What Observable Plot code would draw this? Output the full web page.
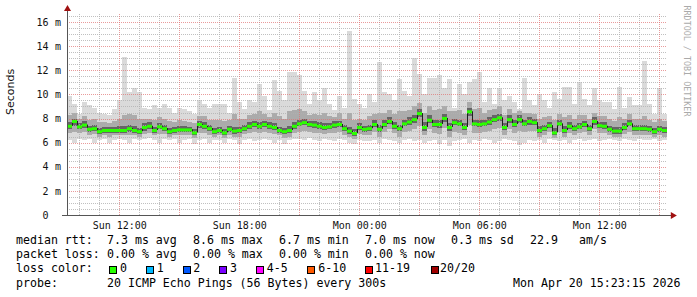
<!DOCTYPE html>
<html>
<head>
<meta charset="utf-8">
<script src="https://cdn.jsdelivr.net/npm/d3@7"></script>
<script src="https://cdn.jsdelivr.net/npm/@observablehq/plot@0.6"></script>
<style>
  html, body { margin: 0; padding: 0; background: #fff; }
  #wrap { position: relative; width: 697px; height: 297px; overflow: hidden; background: #fff; }
  #wrap svg { position: absolute; left: 0; top: 0; }
  .lg { position: absolute; font-family: "DejaVu Sans Mono", monospace; font-size: 11.6px; line-height: 1; color: #000; white-space: pre; }
  .bx { position: absolute; width: 8px; height: 8px; box-sizing: border-box; border: 1px solid #000; }
</style>
</head>
<body>
<div id="wrap"></div>
<script>
// ---- data (15-minute columns, milliseconds) ----
const startTime = Date.UTC(2026, 3, 19, 9, 23, 15);   // Sun Apr 19 09:23:15
const endTime   = Date.UTC(2026, 3, 20, 15, 23, 15);  // Mon Apr 20 15:23:15
const stepMs = 15 * 60 * 1000;

const rttMax = [9.9,9.2,8.4,9.4,9.1,8.9,8.5,8.4,8.3,8.8,9.5,13.1,10.2,10.5,10.2,8.9,8.8,9.1,8.9,9.2,8.9,8.5,8.9,8.8,8.6,8.4,9.5,9.2,8.9,9.2,
  9.2,9.2,8.5,11.4,9.4,8.8,9.5,9.4,10.9,9.9,8.7,11.2,10.3,9.5,11.9,11.9,11.6,10.3,9.2,10.2,9.5,10.5,9.2,8.7,9.9,8.9,15.3,9.6,9.2,8.9,
  10.05,9.4,12.7,10.2,10.05,9.5,11.3,10.3,9.9,13.0,11.7,10.05,11.4,11.4,11.6,10.5,11.3,8.9,10.9,10.05,11.0,11.3,11.9,9.4,10.5,9.2,10.5,9.5,9.9,9.4,
  8.8,11.4,9.5,9.1,10.05,9.5,8.9,10.2,9.6,10.6,10.6,9.2,11.0,9.6,9.1,10.5,9.5,9.4,9.4,8.8,10.6,8.9,9.8,9.1,9.1,12.8,9.2,8.4,10.5,8.4];
const rttHigh = [8.3,8.5,8.0,8.2,7.9,8.0,7.7,7.7,7.6,7.8,8.0,8.3,8.4,8.3,8.0,8.0,8.0,7.9,8.1,8.0,7.8,7.7,7.9,7.8,7.7,7.6,8.2,8.2,7.9,7.9,
  7.9,7.8,7.9,8.4,8.0,8.0,8.3,8.4,8.6,8.4,8.1,8.5,8.2,8.0,8.6,8.7,8.8,8.6,8.3,8.4,8.3,8.5,8.2,8.1,8.5,8.0,8.5,7.9,8.0,7.9,
  8.2,8.4,8.5,8.5,8.7,8.4,8.6,8.6,8.7,9.0,9.3,8.5,9.0,8.7,8.8,9.0,8.6,8.6,8.7,8.4,9.4,8.8,8.9,8.5,8.7,8.8,9.0,8.3,8.8,8.5,
  8.6,8.5,8.5,8.4,8.0,8.1,8.2,7.9,8.4,8.1,8.3,8.0,8.3,8.3,8.0,8.5,8.2,8.2,8.0,7.8,8.1,8.0,8.4,8.0,8.0,8.2,7.9,7.7,8.0,7.8];
const rttQ3 = [7.7,8.0,7.6,7.8,7.4,7.5,7.2,7.3,7.3,7.3,7.4,7.4,7.5,7.4,7.2,7.6,7.7,7.3,7.6,7.5,7.2,7.3,7.4,7.4,7.3,7.1,7.8,7.7,7.5,7.2,
  7.3,7.1,7.4,7.3,7.3,7.5,7.7,7.8,7.7,7.8,7.7,7.6,7.3,7.2,7.4,7.7,7.9,8.0,7.8,7.8,7.7,7.6,7.6,7.8,7.8,7.5,7.3,7.1,7.6,7.4,
  7.5,7.9,7.5,7.9,8.1,7.7,7.5,7.9,8.1,8.3,8.8,7.7,8.3,7.9,7.9,8.4,7.6,8.0,7.9,7.6,8.9,7.9,7.9,7.9,8.1,8.3,8.4,7.6,8.3,7.9,
  8.3,7.9,8.1,8.0,7.4,7.5,7.7,7.2,7.9,7.4,7.7,7.5,7.6,7.8,7.5,8.1,7.7,7.7,7.4,7.3,7.3,7.6,7.9,7.5,7.5,7.5,7.4,7.2,7.4,7.3];
const rttMedian = [7.4,7.8,7.35,7.5,7.15,7.2,6.95,7.05,7.05,7.05,7.05,7.05,7.2,7.05,6.95,7.3,7.4,7.05,7.35,7.2,6.95,7.05,7.1,7.1,7.1,6.85,7.55,7.4,7.2,6.95,
  7.05,6.85,7.15,7.0,7.05,7.2,7.4,7.55,7.4,7.55,7.4,7.3,7.05,6.95,7.05,7.4,7.6,7.7,7.55,7.5,7.4,7.3,7.35,7.5,7.55,7.2,7.0,6.8,7.3,7.15,
  7.2,7.55,7.15,7.55,7.8,7.4,7.2,7.6,7.75,7.95,8.45,7.3,7.9,7.55,7.55,8.05,7.3,7.7,7.6,7.3,8.6,7.6,7.55,7.6,7.75,7.95,8.1,7.3,7.95,7.55,
  7.95,7.6,7.8,7.7,7.05,7.2,7.45,6.85,7.6,7.05,7.4,7.2,7.35,7.55,7.2,7.8,7.45,7.4,7.15,7.0,7.0,7.3,7.6,7.2,7.2,7.2,7.15,6.95,7.15,7.05];
const rttQ1 = [7.1,7.4,7.1,7.2,6.9,6.95,6.7,6.8,6.8,6.8,6.8,6.8,6.9,6.8,6.7,7.0,7.1,6.8,7.1,6.95,6.7,6.8,6.85,6.85,6.85,6.6,7.25,7.1,6.95,6.7,
  6.8,6.6,6.9,6.75,6.8,6.95,7.15,7.3,7.15,7.3,7.15,7.05,6.8,6.7,6.8,7.15,7.35,7.45,7.3,7.25,7.15,7.05,7.1,7.25,7.3,6.95,6.75,6.55,7.05,6.9,
  6.95,7.3,6.9,7.3,7.55,7.15,6.95,7.35,7.5,7.65,8.1,7.0,7.6,7.3,7.25,7.75,7.0,7.45,7.35,7.05,8.25,7.35,7.3,7.35,7.5,7.7,7.8,7.05,7.65,7.3,
  7.6,7.35,7.5,7.45,6.8,6.95,7.2,6.6,7.35,6.8,7.15,6.95,7.1,7.3,6.95,7.5,7.2,7.15,6.9,6.75,6.75,7.05,7.35,6.95,6.95,6.95,6.9,6.7,6.9,6.8];
const rttLow = [6.8,6.9,6.8,6.9,6.6,6.7,6.5,6.6,6.5,6.6,6.6,6.6,6.6,6.6,6.5,6.7,6.8,6.6,6.7,6.7,6.5,6.6,6.6,6.6,6.6,6.4,6.8,6.8,6.6,6.5,
  6.6,6.4,6.6,6.5,6.5,6.7,6.8,6.9,6.8,6.9,6.8,6.7,6.6,6.4,6.5,6.8,6.9,7.0,6.9,6.8,6.8,6.7,6.8,6.8,6.9,6.6,6.5,6.3,6.7,6.6,
  6.6,6.9,6.5,6.9,7.1,6.8,6.5,6.9,7.0,7.1,7.4,6.6,7.1,6.8,6.7,7.2,6.5,6.9,6.8,6.6,7.5,6.8,6.8,6.9,7.0,7.1,7.2,6.6,7.1,6.8,
  7.0,6.9,7.0,7.0,6.5,6.6,6.9,6.4,6.9,6.5,6.8,6.6,6.8,6.9,6.6,7.1,6.8,6.8,6.6,6.5,6.5,6.7,6.9,6.6,6.6,6.6,6.6,6.5,6.6,6.5];
const rttMin = [6.2,6.0,6.3,6.2,6.3,6.0,6.2,6.3,6.0,6.2,6.3,6.2,6.0,6.3,6.2,6.3,6.4,6.2,6.0,6.3,6.2,6.3,6.0,6.2,6.3,5.9,6.2,6.3,6.0,6.2,
  6.2,6.0,6.3,6.2,5.9,6.2,6.3,6.1,6.2,6.3,6.2,6.0,6.2,5.9,6.2,6.3,6.3,6.2,6.4,6.2,6.1,6.3,6.2,6.1,6.3,6.2,6.0,5.9,6.2,6.1,
  6.1,6.2,6.0,6.3,6.2,6.1,6.0,6.2,6.3,6.1,6.2,6.0,6.1,6.2,5.9,6.2,5.7,6.1,6.2,6.3,6.0,6.2,6.1,6.3,6.2,6.0,6.1,6.3,6.2,6.1,
  5.8,6.0,6.2,6.1,6.2,6.0,6.3,6.2,6.1,6.2,6.0,6.2,6.3,6.1,6.2,6.3,6.1,6.2,6.3,6.2,6.1,6.3,6.2,6.1,6.3,6.2,6.2,6.3,6.1,6.2];

const yTicks = [0, 2, 4, 6, 8, 10, 12, 14, 16];
const yUnit = "m";
const xTickTimes = [Date.UTC(2026,3,19,12), Date.UTC(2026,3,19,18), Date.UTC(2026,3,20,0), Date.UTC(2026,3,20,6), Date.UTC(2026,3,20,12)];
const xTickLabels = ["Sun 12:00", "Sun 18:00", "Mon 00:00", "Mon 06:00", "Mon 12:00"];

const statsRtt = ["median rtt:", "7.3 ms avg", "8.6 ms max", "6.7 ms min", "7.0 ms now", "0.3 ms sd", "22.9", "am/s"];
const statsLoss = ["packet loss:", "0.00 % avg", "0.00 % max", "0.00 % min", "0.00 % now"];
const lossLabels = ["0", "1", "2", "3", "4-5", "6-10", "11-19", "20/20"];
const lossColors = ["#26ff00", "#00b8ff", "#0059ff", "#7a00ff", "#ff00ff", "#ff5a00", "#ff0000", "#a00000"];
const probeText = ["probe:", "20 ICMP Echo Pings (56 Bytes) every 300s"];
const stampText = "Mon Apr 20 15:23:15 2026";

// ---- build table ----
const cols = rttMedian.map((m, i) => ({
  t: new Date(startTime + i * stepMs), t2: new Date(startTime + (i + 1) * stepMs),
  med: m, mx: rttMax[i], hi: rttHigh[i], q3: rttQ3[i], q1: rttQ1[i], lo: rttLow[i], mn: rttMin[i]
}));
const joins = cols.slice(1).map((c, i) => ({t: c.t, a: cols[i].med, b: c.med}));

const Y_TOP = 16.67;
const t0 = new Date(startTime), t1 = new Date(endTime);
const majorY = yTicks.filter(d => d > 0);
const minorY = d3.range(0.5, 16.6, 0.5).filter(d => d % 2 !== 0);
const majorX = d3.utcHour.every(3).range(t0, t1);
const minorX = d3.utcHour.range(t0, t1).filter(d => d.getUTCHours() % 3 !== 0);
const mono = "DejaVu Sans Mono";

const chart = Plot.plot({
  width: 697, height: 233,
  marginLeft: 67, marginRight: 30, marginTop: 14, marginBottom: 18,
  x: {type: "utc", domain: [t0, t1], axis: null},
  y: {domain: [0, Y_TOP], axis: null},
  style: {background: "transparent", overflow: "visible"},
  marks: [
    Plot.rect(cols, {x1: "t", x2: "t2", y1: "mn", y2: "mx", fill: "#dadada", shapeRendering: "crispEdges"}),
    Plot.rect(cols, {x1: "t", x2: "t2", y1: "lo", y2: "hi", fill: "#ababab", shapeRendering: "crispEdges"}),
    Plot.rect(cols, {x1: "t", x2: "t2", y1: "q1", y2: "q3", fill: "#656565", shapeRendering: "crispEdges"}),
    Plot.ruleY(minorY, {stroke: "#b0b0b0", strokeOpacity: 0.8, strokeDasharray: "1,1", shapeRendering: "crispEdges"}),
    Plot.ruleX(minorX, {y1: 0, y2: Y_TOP, stroke: "#b0b0b0", strokeOpacity: 0.8, strokeDasharray: "1,1", shapeRendering: "crispEdges"}),
    Plot.ruleY(majorY, {stroke: "#e07070", strokeOpacity: 0.7, strokeDasharray: "1,1", shapeRendering: "crispEdges"}),
    Plot.ruleX(majorX, {y1: 0, y2: Y_TOP, stroke: "#e07070", strokeOpacity: 0.7, strokeDasharray: "1,1", shapeRendering: "crispEdges"}),
    Plot.ruleX(joins, {x: "t", y1: "a", y2: "b", stroke: "#202020", strokeWidth: 1}),
    Plot.ruleY(cols, {y: "med", x1: "t", x2: "t2", stroke: "#2bff00", strokeWidth: 3}),
    // axes
    Plot.ruleX([t0], {y1: 0, y2: Y_TOP + 0.35, stroke: "#555", strokeWidth: 1, shapeRendering: "crispEdges"}),
    Plot.ruleY([0], {x1: new Date(startTime - 15 * 60000), x2: new Date(endTime + 15 * 60000), stroke: "#555", strokeWidth: 1, shapeRendering: "crispEdges"}),
    Plot.dot([t0], {x: d => d, y: Y_TOP + 0.45, symbol: "triangle", r: 2.6, fill: "#a01010", stroke: "none"}),
    Plot.dot([t1], {x: d => new Date(+d + 16 * 60000), y: 0, symbol: "triangle", r: 2.6, rotate: 90, fill: "#a01010", stroke: "none"}),
    // y tick labels
    Plot.text(yTicks, {y: d => d, frameAnchor: "left", dx: -19, textAnchor: "end", text: d => String(d), fontFamily: mono, fontSize: 10, fill: "#111", lineAnchor: "middle"}),
    Plot.text(majorY, {y: d => d, frameAnchor: "left", dx: -9.5, textAnchor: "middle", text: () => yUnit, fontFamily: mono, fontSize: 10, fill: "#111", lineAnchor: "middle"}),
    // x tick labels
    Plot.text(xTickTimes, {x: d => new Date(d), frameAnchor: "bottom", dy: 10.5, text: (d, i) => xTickLabels[i], fontFamily: mono, fontSize: 10, fill: "#111", lineAnchor: "middle"}),
    // axis title
    Plot.text(["Seconds"], {frameAnchor: "left", dx: -57, rotate: -90, text: d => d, fontFamily: "DejaVu Sans", fontSize: 11, fill: "#111", lineAnchor: "middle"}),
    // watermark
    Plot.text(["RRDTOOL / TOBI OETIKER"], {frameAnchor: "top-right", dx: 19, dy: -9, rotate: 90, textAnchor: "start", lineAnchor: "middle", text: d => d, fontFamily: mono, fontSize: 8.4, fill: "#aaaaaa"})
  ]
});
const wrap = document.getElementById("wrap");
wrap.appendChild(chart);

// ---- legend below the chart ----
function put(text, left, baseline) {
  const s = document.createElement("div");
  s.className = "lg";
  s.textContent = text;
  s.style.left = left + "px";
  s.style.top = (baseline - 9.9) + "px";
  wrap.appendChild(s);
}
const colX = [16, 107, 193, 279, 365, 451, 530, 579];
statsRtt.forEach((t, i) => put(t, colX[i], 244.5));
statsLoss.forEach((t, i) => put(t, colX[i], 259));
put("loss color:", 16, 273.3);
const boxX = [108.5, 145.5, 182.5, 219, 256, 307, 365, 430.5];
const lblX = [120, 156.7, 193.3, 230, 266.7, 318.3, 375, 440];
lossLabels.forEach((l, i) => {
  const b = document.createElement("div");
  b.className = "bx";
  b.style.left = boxX[i] + "px";
  b.style.top = "265.5px";
  b.style.background = lossColors[i];
  wrap.appendChild(b);
  put(l, lblX[i], 273.3);
});
put(probeText[0], 16, 287.7);
put(probeText[1], 107, 287.7);
put(stampText, 513, 287.7);
</script>
</body>
</html>
